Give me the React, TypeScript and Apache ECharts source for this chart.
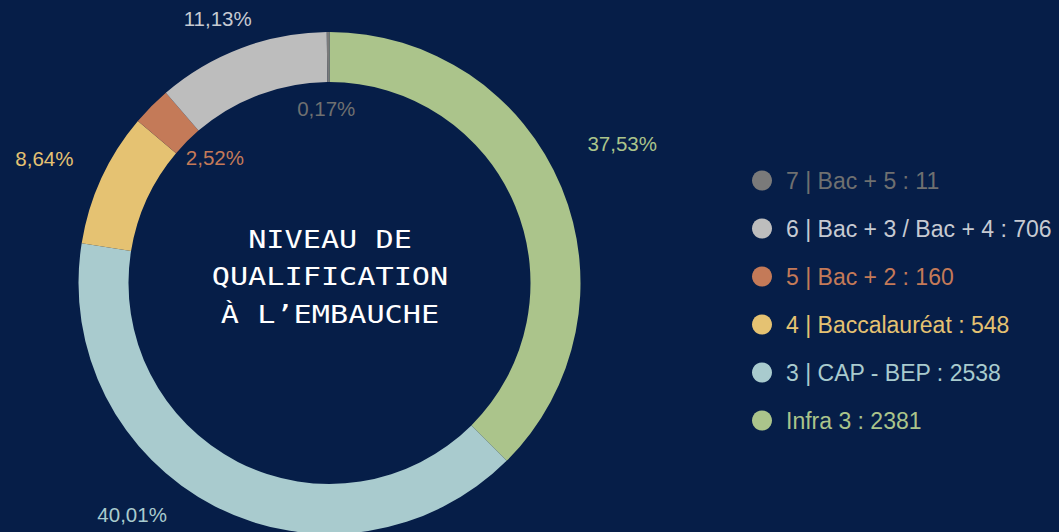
import React, { useEffect, useRef } from "react";
import * as echarts from "echarts";

const categories = [
  "Infra 3",
  "3 | CAP - BEP",
  "4 | Baccalauréat",
  "5 | Bac + 2",
  "6 | Bac + 3 / Bac + 4",
  "7 | Bac + 5",
];
const values = [2381, 2538, 548, 160, 706, 11];
const sliceColors = ["#abc48b", "#a9cbce", "#e5c272", "#c47a58", "#bdbdbd", "#7a7a7a"];
const labelColors = ["#abc48b", "#a9cbce", "#e5c272", "#c47a58", "#c6cad2", "#6f7070"];
const labelOffsets: [number, number][] = [
  [81, -52],
  [-93, 28],
  [-77, -29],
  [48, 36],
  [-31, -50],
  [-2, 54],
];
const legendOrder = [5, 4, 3, 2, 1, 0];
const centerTitle = "NIVEAU DE\nQUALIFICATION\nÀ L’EMBAUCHE";
const BG = "#061e48";

export default function App() {
  const ref = useRef<HTMLDivElement>(null);
  useEffect(() => {
    if (!ref.current) return;
    const chart = echarts.init(ref.current, undefined, { renderer: "svg" });
    const total = values.reduce((a, b) => a + b, 0);
    const valueByName: Record<string, number> = {};
    categories.forEach((c, i) => (valueByName[c] = values[i]));
    chart.setOption({
      animation: false,
      backgroundColor: BG,
      legend: {
        orient: "vertical",
        left: 747,
        top: 164,
        icon: "circle",
        itemWidth: 20,
        itemHeight: 20,
        itemGap: 25,
        selectedMode: false,
        formatter: (name: string) => `${name} : ${valueByName[name]}`,
        textStyle: {
          fontFamily: "Liberation Sans",
          fontSize: 23,
          lineHeight: 20,
          padding: [0, 0, 0, 9],
        },
        data: legendOrder.map((i) => ({
          name: categories[i],
          textStyle: { color: labelColors[i] },
        })),
      },
      graphic: [
        {
          type: "text",
          x: 330,
          y: 277,
          scaleX: 1.26,
          style: {
            text: centerTitle,
            fill: "#ffffff",
            stroke: BG,
            lineWidth: 1.4,
            fontFamily: "DejaVu Sans Mono",
            fontSize: 24,
            lineHeight: 37.5,
            textAlign: "center",
            textVerticalAlign: "middle",
          },
        },
      ],
      series: [
        {
          type: "pie",
          center: [329.5, 283],
          radius: [201, 251],
          startAngle: 90,
          clockwise: true,
          avoidLabelOverlap: false,
          silent: true,
          labelLine: { show: false },
          data: categories.map((name, i) => ({
            name,
            value: values[i],
            itemStyle: { color: sliceColors[i] },
            label: {
              show: true,
              position: "inside",
              offset: labelOffsets[i],
              color: labelColors[i],
              fontFamily: "Liberation Sans",
              fontSize: 20.5,
              formatter: () =>
                ((values[i] / total) * 100).toFixed(2).replace(".", ",") + "%",
            },
          })),
        },
      ],
    });
    return () => chart.dispose();
  }, []);
  return <div ref={ref} style={{ width: 1059, height: 532, position: "absolute", left: 0, top: 0 }} />;
}
